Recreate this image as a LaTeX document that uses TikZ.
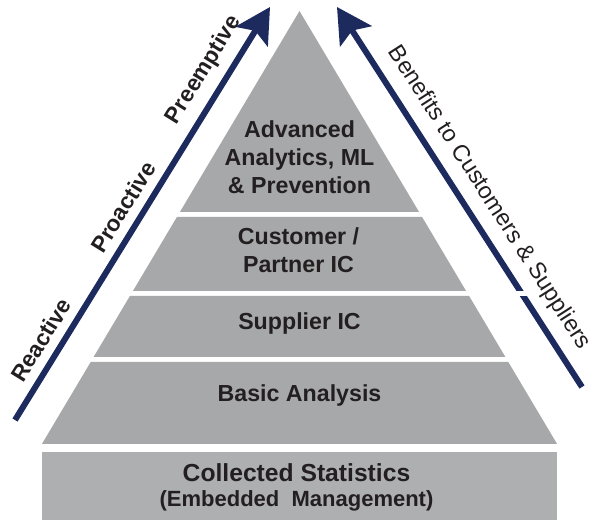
\documentclass[tikz,border=0pt]{standalone}
\usepackage{fontspec}
\setmainfont{Liberation Sans}
\usetikzlibrary{arrows.meta}
\definecolor{band}{HTML}{A7A8AA}
\definecolor{baseband}{HTML}{AEAFB1}
\definecolor{navy}{HTML}{1C2A5E}
\definecolor{txt}{HTML}{231F20}
\begin{document}
\begin{tikzpicture}[x=0.75pt,y=-0.75pt,
 lvl/.style={font=\fontsize{17.4}{21}\selectfont\bfseries, text=txt, inner sep=0pt, anchor=base},
 side/.style={font=\fontsize{17}{20}\selectfont\bfseries, text=txt, inner sep=0pt},
 bigarrow/.style={line width=4.5pt, draw=navy, -{Stealth[length=26pt,width=28pt,inset=5pt]}}]
\useasboundingbox (0,0) rectangle (597,520);
% pyramid bands
\fill[band] (299.5,11) -- (419.1,212) -- (179.9,212) -- cycle;
\fill[band] (176.9,217) -- (422.1,217) -- (466.1,291) -- (132.9,291) -- cycle;
\fill[band] (129.9,296) -- (469.1,296) -- (505.4,357) -- (93.6,357) -- cycle;
\fill[band] (90.7,362) -- (508.3,362) -- (557.1,444) -- (41.9,444) -- cycle;
\fill[baseband] (42,452) rectangle (557,520);
% arrows
\coordinate (l0) at (15,420);
\coordinate (l1) at (270,7);
\coordinate (r0) at (582,387);
\coordinate (r1) at (337,7);
\draw[bigarrow] (l0) -- (l1);
\draw[bigarrow] (r0) -- (r1);
\fill[white] (505,291) rectangle (540,296);
% level labels
\node[lvl] (adv1) at (299.5,138) {Advanced};
\node[lvl] (adv2) at (299.5,166) {Analytics, ML};
\node[lvl] (adv3) at (299.5,194) {\& Prevention};
\node[lvl] (cust1) at (298.5,245) {Customer /};
\node[lvl] (cust2) at (298.5,273) {Partner IC};
\node[lvl] (sup) at (299.5,330) {Supplier IC};
\node[lvl] (basic) at (299.5,402) {Basic Analysis};
\node[lvl, font=\fontsize{18.5}{22}\selectfont\bfseries] (coll) at (296.5,482) {Collected Statistics};
\node[lvl, font=\fontsize{16.5}{20}\selectfont\bfseries] (emb) at (296.5,507) {(Embedded\ \ Management)};
% side labels
\node[side, rotate=58.3] (react) at (41,340) {Reactive};
\node[side, rotate=58.3] (proact) at (123,207) {Proactive};
\node[side, rotate=58.3] (preempt) at (204,70) {Preemptive};
\node[font=\fontsize{17.5}{20}\selectfont, text=txt, inner sep=0pt, rotate=-57.2] (ben) at (489,198) {Benefits to Customers \& Suppliers};
\end{tikzpicture}
\end{document}
